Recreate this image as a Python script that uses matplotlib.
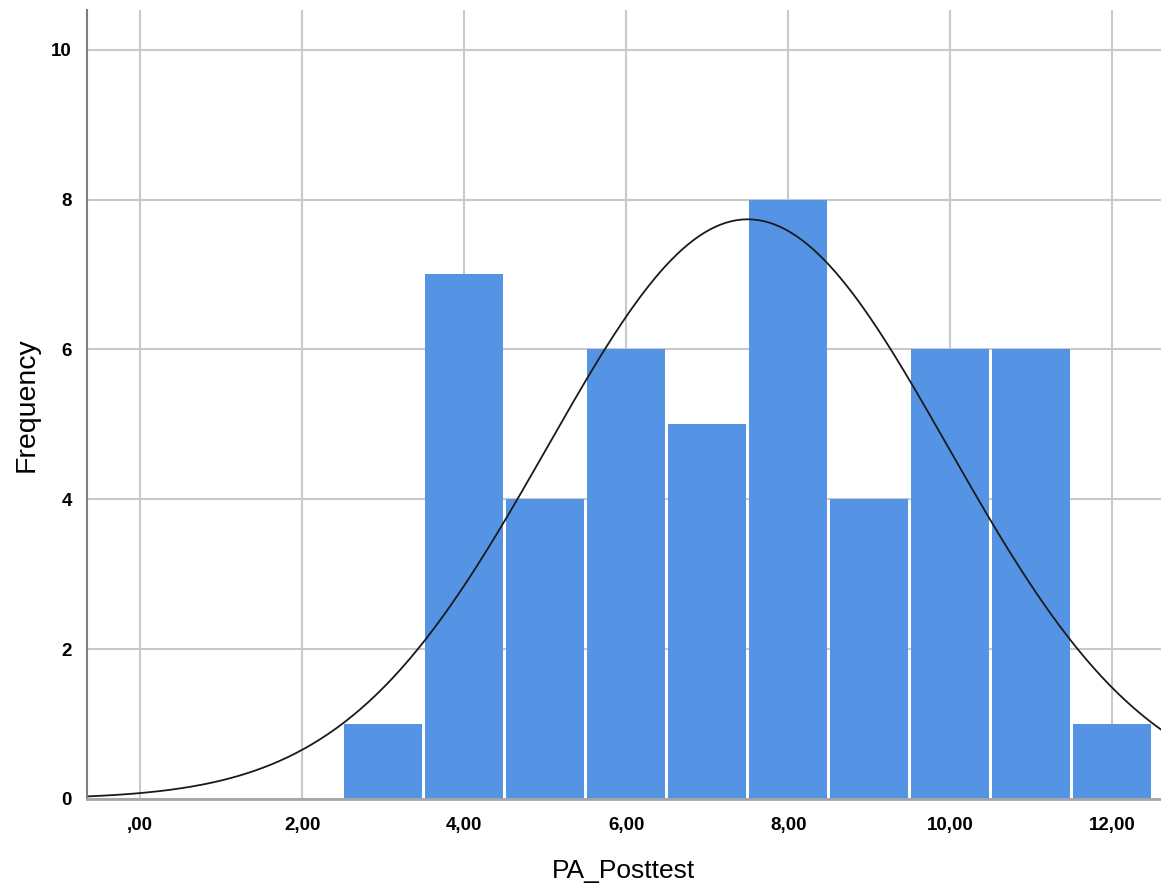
import numpy as np
import matplotlib.pyplot as plt
from matplotlib.ticker import FuncFormatter

# histogram of PA_Posttest (bin centres and counts)
bin_centers = [3, 4, 5, 6, 7, 8, 9, 10, 11, 12]
counts = [1, 7, 4, 6, 5, 8, 4, 6, 6, 1]
x_ticks = [0, 2, 4, 6, 8, 10, 12]
y_ticks = [0, 2, 4, 6, 8, 10]

values = np.repeat(bin_centers, counts)
n = len(values)
mean = values.mean()
sd = values.std(ddof=1)

fig = plt.figure(figsize=(11.61, 8.94), dpi=100)
ax = fig.add_axes([0.0749, 0.1063, 0.9251, 0.8826])

ax.bar(bin_centers, counts, width=0.965, color='#5594e4', linewidth=0, zorder=2)

xs = np.linspace(-0.7, 12.7, 400)
ys = n * 1.0 / (sd * np.sqrt(2 * np.pi)) * np.exp(-0.5 * ((xs - mean) / sd) ** 2)
ax.plot(xs, ys, color='#1a1a1a', linewidth=1.3, zorder=3)

ax.set_xlim(-0.655, 12.6)
ax.set_ylim(0, 10.53)
ax.set_xticks(x_ticks)
ax.set_yticks(y_ticks)
ax.xaxis.set_major_formatter(FuncFormatter(
    lambda v, p: ',00' if v == 0 else f'{int(v)},00'))
ax.grid(True, color='#c9c9c9', linewidth=1.5, zorder=0)
ax.set_axisbelow(True)

for s in ['top', 'right']:
    ax.spines[s].set_visible(False)
ax.spines['left'].set_color('#7f7f7f')
ax.spines['bottom'].set_color('#a6a6a6')
ax.spines['left'].set_linewidth(1.5)
ax.spines['bottom'].set_linewidth(2.0)
ax.spines['left'].set_zorder(4)
ax.spines['bottom'].set_zorder(4)

ax.tick_params(length=0)
ax.tick_params(axis='x', pad=13)
ax.tick_params(axis='y', pad=11)
for lab in ax.get_xticklabels() + ax.get_yticklabels():
    lab.set_family(['Liberation Sans', 'DejaVu Sans'])
    lab.set_fontweight('bold')
    lab.set_fontsize(13.5)

ax.set_xlabel('PA_Posttest', fontsize=19, family='Liberation Sans', labelpad=18)
ax.set_ylabel('Frequency', fontsize=20.5, family='Liberation Sans', labelpad=8)

fig.savefig('out.png', dpi=100)
